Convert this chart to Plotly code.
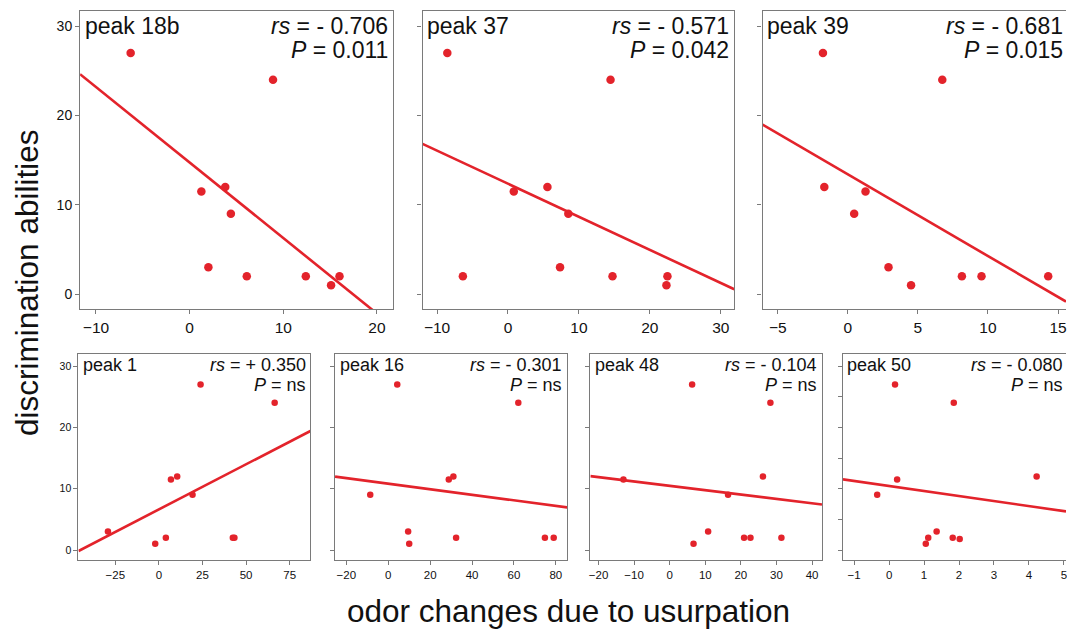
import numpy as np
import plotly.graph_objects as go

W, H = 1067, 634

# ---------------- data ----------------
peak_names = ["peak 18b", "peak 37", "peak 39", "peak 1", "peak 16", "peak 48", "peak 50"]
rs_labels = ["- 0.706", "- 0.571", "- 0.681", "+ 0.350", "- 0.301", "- 0.104", "- 0.080"]
p_labels = ["0.011", "0.042", "0.015", "ns", "ns", "ns", "ns"]

x_peak18b = [-6.3, 8.9, 1.25, 3.8, 4.4, 2.0, 6.1, 12.4, 15.1, 16.0]
y_peak18b = [27, 24, 11.5, 12, 9, 3, 2, 2, 1, 2]

x_peak37 = [-8.55, 14.46, -6.36, 0.82, 5.56, 8.51, 7.34, 14.74, 22.48, 22.34]
y_peak37 = [27, 24, 2, 11.5, 12, 9, 3, 2, 2, 1]

x_peak39 = [-1.78, 6.74, -1.68, 1.26, 0.45, 2.9, 4.51, 8.14, 9.54, 14.3]
y_peak39 = [27, 24, 12, 11.5, 9, 3, 1, 2, 2, 2]

x_peak1 = [-29.2, -2.1, 4.0, 6.9, 10.5, 19.3, 23.9, 42.4, 43.3, 66.4]
y_peak1 = [3, 1, 2, 11.5, 12, 9, 27, 2, 2, 24]

x_peak16 = [4.3, 62.1, 28.9, 31.1, -8.6, 9.5, 10.0, 32.4, 74.8, 79.0]
y_peak16 = [27, 24, 11.5, 12, 9, 3, 1, 2, 2, 2]

x_peak48 = [6.3, 28.3, 26.2, -13.0, 16.4, 10.8, 6.7, 20.9, 22.7, 31.4]
y_peak48 = [27, 24, 12, 11.5, 9, 3, 1, 2, 2, 2]

x_peak50 = [0.17, 1.85, 4.22, 0.23, -0.34, 1.36, 1.12, 1.05, 1.82, 2.02]
y_peak50 = [27, 24, 12, 11.5, 9, 3, 2, 1, 2, 1.8]

xs = [x_peak18b, x_peak37, x_peak39, x_peak1, x_peak16, x_peak48, x_peak50]
ys = [y_peak18b, y_peak37, y_peak39, y_peak1, y_peak16, y_peak48, y_peak50]

x_ticks = [[-10, 0, 10, 20], [-10, 0, 10, 20, 30], [-5, 0, 5, 10, 15],
           [-25, 0, 25, 50, 75], [-20, 0, 20, 40, 60, 80],
           [-20, -10, 0, 10, 20, 30, 40], [-1, 0, 1, 2, 3, 4, 5]]
y_ticks_10 = [0, 10, 20, 30]
y_ticks_5 = [0, 5, 10, 15, 20, 25, 30]

# ---------------- layout (pixel boxes) ----------------
# (left, right, top, bottom) in pixels
boxes = [(78.3, 392.0, 11, 309.3), (421.7, 734.3, 11, 309.3), (762.7, 1067, 11, 309.3),
         (76.7, 309.3, 354, 560), (334.0, 566.7, 354, 560), (590.0, 822.3, 354, 560),
         (843.3, 1067, 354, 560)]
x_ranges = [[-11.7, 21.7], [-12.05, 31.9], [-6.09, 15.57],
            [-46.1, 86.9], [-25.4, 85.4], [-22.3, 42.8], [-1.32, 5.06]]
y_ranges = [[-1.7, 31.7]] * 3 + [[-1.63, 31.96]] * 4
cut_right = [False, False, True, False, False, False, True]
text_right_px = [387.7, 730.0, 1064.0, 305.0, 562.4, 818.0, 1064.0]

RED = "#e3232b"
AXC = "#7a7a7a"
FONT = "Liberation Sans, Arial, sans-serif"

fig = go.Figure()
annotations = []

def px_x(p):
    return p / W

def px_y(p):
    return 1 - p / H

for i in range(7):
    top_row = i < 3
    l, r, t, b = boxes[i]
    ax = "" if i == 0 else str(i + 1)
    xa, ya = "x" + ax, "y" + ax
    msize = 8.5 if top_row else 6.5
    fig.add_trace(go.Scatter(x=xs[i], y=ys[i], mode="markers", xaxis=xa, yaxis=ya,
                             marker=dict(size=msize, color=RED), showlegend=False,
                             cliponaxis=False))
    slope, inter = np.polyfit(xs[i], ys[i], 1)
    lx = np.array(x_ranges[i])
    fig.add_trace(go.Scatter(x=lx, y=slope * lx + inter, mode="lines", xaxis=xa, yaxis=ya,
                             line=dict(color=RED, width=2.6), showlegend=False))
    xfs = 15.5 if top_row else 11.5
    yfs = 14 if top_row else 10.5
    show_ylab = i in (0, 3)
    fig.update_layout(**{
        "xaxis" + ax: dict(domain=[px_x(l), px_x(r)], range=x_ranges[i], anchor=ya,
                           tickvals=x_ticks[i], ticks="outside", ticklen=4, tickcolor=AXC,
                           showline=True, linecolor=AXC, linewidth=1.2, mirror=True,
                           showgrid=False, zeroline=False, ticklabeloverflow="allow",
                           tickfont=dict(family=FONT, size=xfs, color="#111")),
        "yaxis" + ax: dict(domain=[px_y(b), px_y(t)], range=y_ranges[i], anchor=xa,
                           tickvals=y_ticks_5 if i == 6 else y_ticks_10,
                           showticklabels=show_ylab, ticks="outside", ticklen=4,
                           tickcolor=AXC, showline=True, linecolor=AXC, linewidth=1.2,
                           mirror=not cut_right[i], showgrid=False, zeroline=False,
                           tickfont=dict(family=FONT, size=yfs, color="#111")),
    })
    tfs = 23 if top_row else 18
    if top_row:
        yc1, yc2 = 26, 50
    else:
        yc1, yc2 = 364.5, 384.5
    annotations.append(dict(text=peak_names[i], xref="paper", yref="paper",
                            x=px_x(l + 2.5), y=px_y(yc1), xanchor="left", yanchor="middle",
                            showarrow=False, font=dict(family=FONT, size=tfs, color="#111")))
    annotations.append(dict(text="<i>rs</i> = " + rs_labels[i], xref="paper", yref="paper",
                            x=px_x(text_right_px[i] + 1.5), y=px_y(yc1), xanchor="right",
                            yanchor="middle", showarrow=False,
                            font=dict(family=FONT, size=tfs, color="#111")))
    annotations.append(dict(text="<i>P</i> = " + p_labels[i], xref="paper", yref="paper",
                            x=px_x(text_right_px[i] + 1.5), y=px_y(yc2), xanchor="right",
                            yanchor="middle", showarrow=False,
                            font=dict(family=FONT, size=tfs, color="#111")))

annotations.append(dict(text="discrimination abilities", xref="paper", yref="paper",
                        x=px_x(25), y=px_y(283), textangle=-90, xanchor="center",
                        yanchor="middle", showarrow=False,
                        font=dict(family=FONT, size=31.5, color="#111")))
annotations.append(dict(text="odor changes due to usurpation", xref="paper", yref="paper",
                        x=px_x(568), y=px_y(611), xanchor="center", yanchor="middle",
                        showarrow=False, font=dict(family=FONT, size=31.5, color="#111")))

fig.update_layout(width=W, height=H, margin=dict(l=0, r=0, t=0, b=0),
                  paper_bgcolor="white", plot_bgcolor="white",
                  annotations=annotations, font=dict(family=FONT))

fig.write_html("out.html", config={"displayModeBar": False},
               post_script="document.body.style.margin='0px';")
